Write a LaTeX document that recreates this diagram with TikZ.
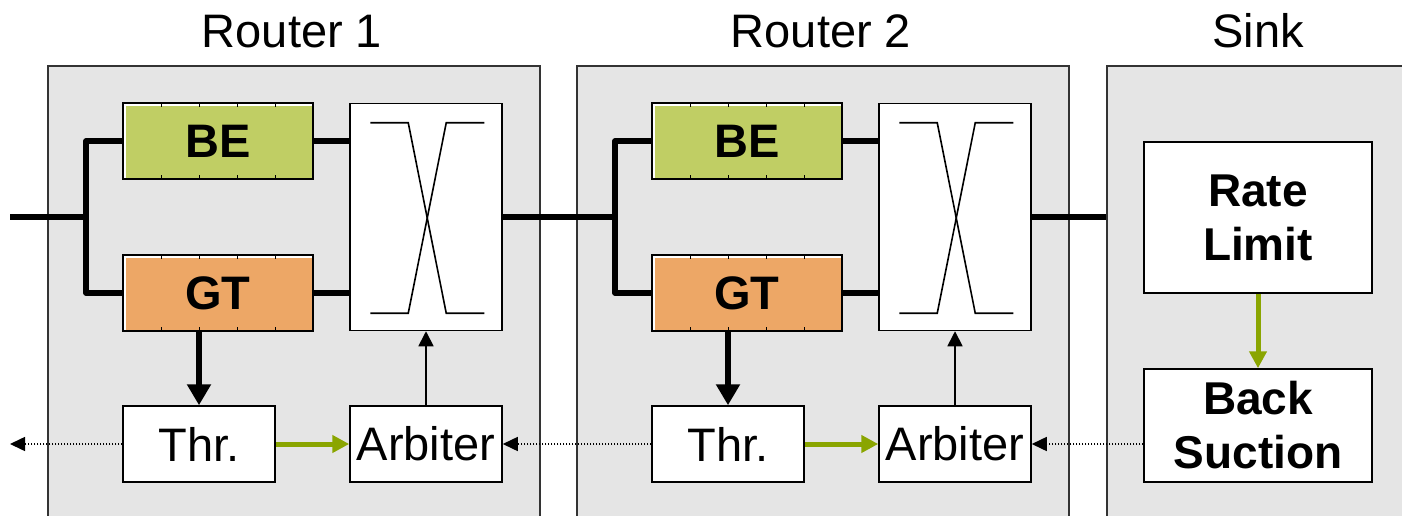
\documentclass[tikz,border=0pt]{standalone}
\usepackage{fontspec}
\setmainfont{Liberation Sans}
\usetikzlibrary{arrows.meta,calc}
\definecolor{panelgray}{RGB}{229,229,229}
\definecolor{begreen}{RGB}{192,206,100}
\definecolor{gtorange}{RGB}{237,167,102}
\definecolor{olivearrow}{RGB}{138,165,0}
\begin{document}
\begin{tikzpicture}[x=1pt,y=-1pt,
  panel/.style={draw=black!80, line width=1.5pt, fill=panelgray, inner sep=0pt, minimum height=470pt},
  title/.style={anchor=base, font=\fontsize{47}{53}\selectfont},
  buf/.style={draw, line width=1.5pt, fill=white, inner sep=0pt,
    minimum width=190pt, minimum height=76pt,
    font=\fontsize{47}{53}\selectfont\bfseries,
    path picture={
      \fill[#1] ($(path picture bounding box.north west)+(3,3)$)
        rectangle ($(path picture bounding box.south east)+(-1,-1)$);
      \foreach \k in {1,...,4}{
        \draw[line width=1pt] ($(path picture bounding box.north west)+(38*\k,0)$) -- ++(0,4);
        \draw[line width=1pt] ($(path picture bounding box.south west)+(38*\k,0)$) -- ++(0,-4);
      }
    }},
  xbar/.style={draw, line width=1.5pt, fill=white, inner sep=0pt,
    minimum width=152pt, minimum height=227pt},
  ctrl/.style={draw, line width=1.5pt, fill=white, inner sep=0pt,
    minimum width=152pt, minimum height=76pt,
    font=\fontsize{47}{53}\selectfont},
  sinkbox/.style={draw, line width=1.5pt, fill=white, inner sep=0pt,
    minimum width=228pt, align=center,
    font=\fontsize{46}{54}\selectfont\bfseries},
  wire/.style={line width=5.5pt, line join=round},
  thin/.style={line width=1.6pt},
  bigarrow/.style={line width=5.5pt, -{Triangle[width=23pt,length=21pt]}},
  ctrlarrow/.style={line width=1.7pt, -{Triangle[width=15pt,length=15pt]}},
  greenarrow/.style={olivearrow, line width=5pt, -{Triangle[width=17pt,length=17pt]}},
  backarrow/.style={line width=1.5pt, dash pattern=on 1.5pt off 1.5pt,
    -{Triangle[width=14pt,length=15pt]}}
]
\useasboundingbox (0,0) rectangle (1402,516);
\clip (0,0) rectangle (1402,516);

% panels
\node[panel, minimum width=492pt] (p1) at (294,301) {};
\node[panel, minimum width=492pt] (p2) at (823,301) {};
\node[panel, minimum width=393pt] (sink) at (1303.5,301) {};

\node[title] (t1) at (292,48) {Router 1};
\node[title] (t2) at (821,48) {Router 2};
\node[title] (t3) at (1258,48) {Sink};

% network input and router/sink interconnect points
\coordinate (in) at (10,217);
\coordinate (out) at (10,444);
\coordinate (split1) at (86,217);
\coordinate (split2) at (615,217);

% router internals
\foreach \r/\o in {1/0,2/529}{
  \node[buf=begreen] (be\r) at (218+\o,141) {BE};
  \node[buf=gtorange] (gt\r) at (218+\o,293) {GT};
  \node[xbar] (xb\r) at (426+\o,217) {};
  \node[ctrl] (thr\r) at (199+\o,444) {Thr.};
  \node[ctrl] (arb\r) at (426+\o,444) {Arbiter};

  % crossbar symbol
  \draw[thin] ($(xb\r.north west)+(21,20)$) -- ($(xb\r.north west)+(59,20)$)
    -- ($(xb\r.south west)+(97,-18)$) -- ($(xb\r.south west)+(135,-18)$);
  \draw[thin] ($(xb\r.north west)+(135,20)$) -- ($(xb\r.north west)+(97,20)$)
    -- ($(xb\r.south west)+(59,-18)$) -- ($(xb\r.south west)+(21,-18)$);

  % buffers to crossbar
  \draw[wire] (be\r.east) -- (be\r.east -| xb\r.west);
  \draw[wire] (gt\r.east) -- (gt\r.east -| xb\r.west);

  % control
  \draw[bigarrow] (gt\r.south -| thr\r.north) -- (thr\r.north);
  \draw[ctrlarrow] (arb\r.north) -- (arb\r.north |- xb\r.south);
  \draw[greenarrow] (thr\r.east) -- (arb\r.west);
}

% input splits
\draw[wire] (in) -- (split1);
\draw[wire] (be1.west) -| (split1) |- (gt1.west);
\draw[wire] (be2.west) -| (split2) |- (gt2.west);
\draw[wire] (xb1.east) -- (split2);
\draw[wire] (xb2.east) -- (xb2.east -| sink.west);

% sink
\node[sinkbox, minimum height=151pt] (rl) at (1258,217.5) {Rate\\Limit};
\node[sinkbox, minimum height=113pt] (bs) at (1258,425.5) {Back\\Suction};
\draw[greenarrow] (rl.south) -- (bs.north);

% back-pressure signals
\draw[backarrow] (thr1.west) -- (out);
\draw[backarrow] (thr2.west) -- (arb1.east);
\draw[backarrow] (bs.west |- arb2.east) -- (arb2.east);
\end{tikzpicture}
\end{document}
